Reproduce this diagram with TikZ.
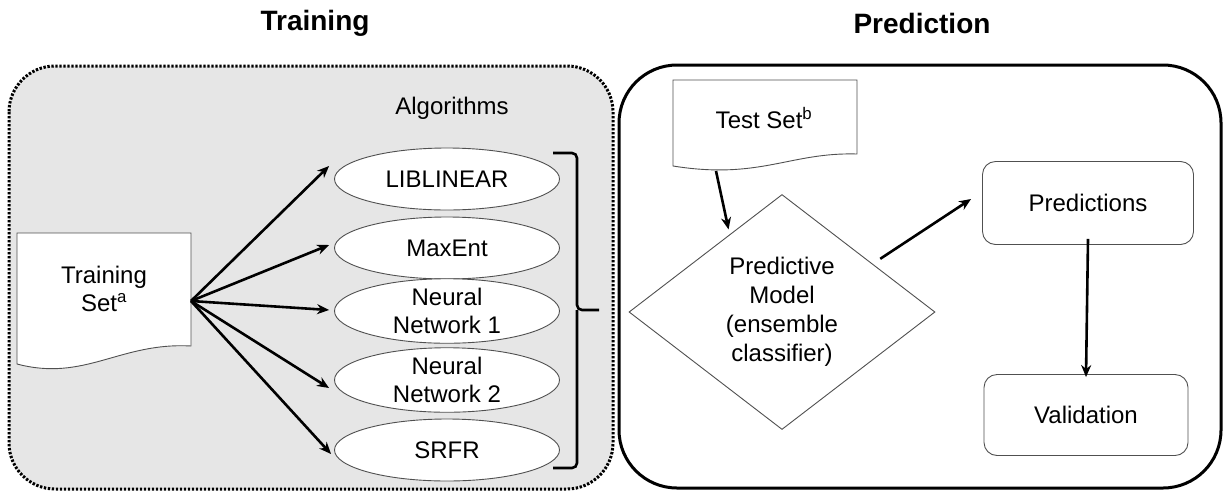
\documentclass[tikz,border=0pt]{standalone}
\usepackage{fontspec}
\setmainfont{Liberation Sans}
\usetikzlibrary{shapes.geometric,arrows.meta}
\definecolor{panelgray}{HTML}{E6E6E6}
\definecolor{shapeline}{HTML}{505050}
\tikzset{
  titletext/.style={font=\fontsize{28}{30}\selectfont\bfseries, inner sep=0pt},
  bodyfont/.style={font=\fontsize{24}{28}\selectfont},
  algo/.style={ellipse, draw=shapeline, line width=0.9pt, fill=white, minimum width=225pt, minimum height=62pt, inner sep=0pt, align=center, bodyfont},
  rbox/.style={rectangle, rounded corners=13pt, draw=shapeline, line width=0.9pt, fill=white, align=center, bodyfont, inner sep=0pt},
  thickarrow/.style={line width=2.6pt, -{Stealth[length=12pt,width=10pt]}},
  docline/.style={draw=shapeline, line width=0.9pt, fill=white},
}
\begin{document}
\begin{tikzpicture}[x=1pt,y=-1pt]
\useasboundingbox (0,0) rectangle (1225,491);
\fill[white] (0,0) rectangle (1225,491);

% titles
\node[titletext] (ttrain) at (315,23) {Training};
\node[titletext] (tpred) at (922,23) {Prediction};

% panels
\draw[fill=panelgray, line width=3pt, dash pattern=on 2.4pt off 1.6pt, rounded corners=46pt] (9,66) rectangle (613,489);
\draw[line width=3pt, rounded corners=58pt] (619,65) rectangle (1221,488);

% training set document
\path[docline] (17,233) -- (191,233) -- (191,346) .. controls (120,342) and (85,382) .. (17,364) -- cycle;
\node[bodyfont, align=center, inner sep=0pt] (ts) at (104,289) {Training\\Set\textsuperscript{a}};
\coordinate (tsout) at (191,301);

% algorithms
\node[bodyfont, inner sep=0pt] (alg) at (452,108) {Algorithms};
\node[algo] (e1) at (447,179) {LIBLINEAR};
\node[algo] (e2) at (447,248) {MaxEnt};
\node[algo] (e3) at (447,311) {Neural\\Network 1};
\node[algo] (e4) at (447,380) {Neural\\Network 2};
\node[algo] (e5) at (447,450) {SRFR};

\draw[thickarrow] (tsout) -- ([xshift=-5pt,yshift=13pt]e1.west);
\draw[thickarrow] (tsout) -- ([xshift=-5pt,yshift=3pt]e2.west);
\draw[thickarrow] (tsout) -- ([xshift=-5pt,yshift=1pt]e3.west);
\draw[thickarrow] (tsout) -- ([xshift=-5pt,yshift=-8pt]e4.west);
\draw[thickarrow] (tsout) -- ([xshift=-3pt,yshift=-4pt]e5.west);

% bracket
\coordinate (brtop) at (553,153);
\coordinate (brbot) at (553,468);
\coordinate (brtip) at (599,310);
\draw[line width=2.6pt, rounded corners=5pt] (brtop) -- (577,153) -- (577,310) -- (brtip);
\draw[line width=2.6pt, rounded corners=5pt] (brbot) -- (577,468) -- (577,310);

% test set document
\path[docline] (673,80) -- (857,80) -- (857,154) .. controls (790,152) and (760,180) .. (673,166) -- cycle;
\node[bodyfont, inner sep=0pt] (test) at (764,118) {Test Set\textsuperscript{b}};
\coordinate (testout) at (716,171);

% predictive model
\node[diamond, draw=shapeline, line width=0.9pt, fill=white, minimum width=306pt, minimum height=235pt, aspect=1.3, inner sep=0pt, align=center, font=\fontsize{24}{29}\selectfont] (pm) at (782,312) {Predictive\\Model\\(ensemble\\classifier)};

\node[rbox, minimum width=211pt, minimum height=83pt] (pred) at (1088,203) {Predictions};
\node[rbox, minimum width=204pt, minimum height=81pt] (val) at (1086,415) {Validation};

\draw[thickarrow, shorten >=5pt] (testout) -- (pm.124);
\draw[thickarrow, shorten <=9pt] (pm.28) -- ([xshift=-11pt,yshift=4pt]pred.west);
\draw[thickarrow] ([yshift=6pt]pred.south) -- ([yshift=-3pt]val.north);
\end{tikzpicture}
\end{document}
